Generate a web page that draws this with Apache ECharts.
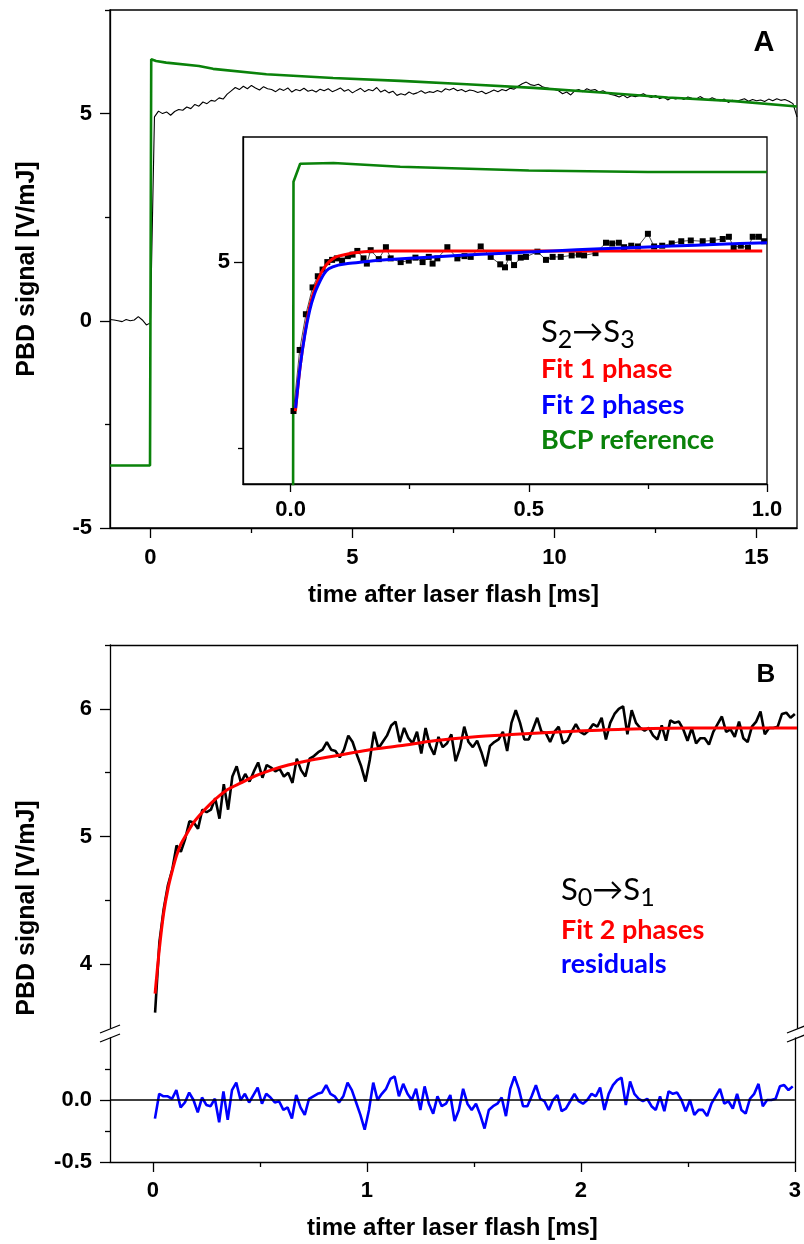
<!DOCTYPE html>
<html><head><meta charset="utf-8">
<script src="https://cdn.jsdelivr.net/npm/echarts@6/dist/echarts.min.js"></script>
<style>html,body{margin:0;padding:0;background:#fff}#c{width:804px;height:1244px}</style>
</head><body><div id="c"></div>
<script>
// ---------- Panel A (main) ----------
const A_T0 = -1.0, A_DT = 0.1;   // sampling of the PBD trace
const A_signal = [
  0.03, 0.02, 0.00, -0.02, 0.03, 0.00, 0.02, 0.10, 0.02, -0.10, -0.05,
  4.92, 5.06, 5.00, 5.04, 4.96, 5.05, 5.10, 5.08, 5.16, 5.12,
  5.22, 5.18, 5.28, 5.24, 5.32, 5.30, 5.38, 5.35, 5.47, 5.55,
  5.63, 5.58, 5.66, 5.60, 5.68, 5.62, 5.57, 5.65, 5.60, 5.58,
  5.53, 5.60, 5.56, 5.62, 5.52, 5.58, 5.55, 5.61, 5.54, 5.57,
  5.52, 5.59, 5.55, 5.60, 5.53, 5.57, 5.62, 5.54, 5.58, 5.50,
  5.56, 5.61, 5.53, 5.58, 5.55, 5.63, 5.52, 5.57, 5.50, 5.54,
  5.44, 5.48, 5.45, 5.52, 5.47, 5.50, 5.55, 5.49, 5.53, 5.51,
  5.56, 5.52, 5.60, 5.57, 5.61, 5.55, 5.58, 5.53, 5.57, 5.55,
  5.51, 5.54, 5.48, 5.52, 5.57, 5.53, 5.58, 5.55, 5.61, 5.59,
  5.66, 5.72, 5.76, 5.70, 5.68, 5.71, 5.65, 5.62, 5.60, 5.58,
  5.55, 5.48, 5.52, 5.45, 5.55, 5.58, 5.53, 5.60, 5.56, 5.58,
  5.52, 5.55, 5.50, 5.46, 5.44, 5.40, 5.45, 5.38, 5.43, 5.41,
  5.44, 5.48, 5.42, 5.39, 5.44, 5.36, 5.40, 5.33, 5.38, 5.35,
  5.39, 5.34, 5.40, 5.37, 5.35, 5.41, 5.36, 5.33, 5.38, 5.34,
  5.31, 5.35, 5.27, 5.32, 5.29, 5.33, 5.36, 5.30, 5.34, 5.31,
  5.33, 5.29, 5.35, 5.31, 5.36, 5.32, 5.34, 5.30, 5.24, 4.92
];
const A_bcp = [[-1,-3.49],[-0.01,-3.49],[0.02,6.31],[0.14,6.27],[0.39,6.23],[1.2,6.15],[1.55,6.08],
  [2.87,5.95],[4.52,5.86],[6.18,5.79],[7.83,5.71],[9.48,5.62],[11.15,5.51],[12.8,5.39],[14.45,5.30],[16.0,5.17]];

// ---------- Inset (0 - 1 ms) ----------
const I_signal = [[0.006,3.0],[0.019,3.82],[0.032,4.3],[0.046,4.66],[0.057,4.81],[0.067,4.9],[0.077,5.0],
  [0.087,5.03],[0.097,5.05],[0.108,5.02],[0.12,5.08],[0.13,5.1],[0.14,5.15],[0.153,5.05],[0.16,4.98],
  [0.168,5.16],[0.185,5.04],[0.2,5.2],[0.21,5.05],[0.231,5.0],[0.248,5.02],[0.262,5.06],[0.277,5.0],
  [0.29,5.07],[0.298,4.98],[0.308,5.05],[0.329,5.2],[0.35,5.05],[0.365,5.08],[0.378,5.07],[0.399,5.21],
  [0.42,5.07],[0.44,4.97],[0.45,4.93],[0.458,5.06],[0.469,4.96],[0.483,5.06],[0.494,5.07],[0.518,5.14],
  [0.536,5.03],[0.55,5.07],[0.567,5.07],[0.59,5.09],[0.605,5.1],[0.616,5.09],[0.64,5.12],[0.662,5.26],
  [0.675,5.25],[0.689,5.26],[0.70,5.2],[0.715,5.22],[0.729,5.21],[0.75,5.38],[0.763,5.21],[0.78,5.22],
  [0.80,5.25],[0.82,5.28],[0.84,5.29],[0.865,5.28],[0.886,5.29],[0.907,5.31],[0.92,5.34],[0.93,5.2],
  [0.945,5.22],[0.96,5.19],[0.97,5.34],[0.983,5.34],[0.994,5.28]];
const I_fit1 = [[0.01,3.0],[0.02,3.6],[0.03,4.05],[0.04,4.4],[0.05,4.63],[0.06,4.8],[0.07,4.92],[0.08,5.0],
  [0.09,5.05],[0.1,5.08],[0.12,5.11],[0.14,5.13],[0.17,5.145],[0.2,5.15],[0.99,5.15]];
const I_fit2 = [[0.0105,3.04],[0.02,3.6],[0.03,4.03],[0.04,4.35],[0.05,4.57],[0.06,4.72],[0.07,4.84],[0.08,4.91],
  [0.1,4.96],[0.12,4.98],[0.15,5.0],[0.2,5.03],[0.3,5.07],[0.4,5.105],[0.5,5.135],[0.6,5.165],[0.7,5.19],
  [0.8,5.215],[0.9,5.24],[1.0,5.26]];
const I_bcp = [[-0.1,-3.49],[0.004,-3.49],[0.006,6.08],[0.02,6.32],[0.09,6.33],[0.23,6.28],[0.5,6.23],[0.75,6.21],[1.0,6.21]];

// ---------- Panel B ----------
const B_T0 = 0.01, B_DT = 0.02;
const B_signal = [
  3.62,4.17,4.43,4.62,4.74,4.93,4.88,4.98,5.12,5.11,
  5.06,5.21,5.19,5.21,5.30,5.14,5.41,5.21,5.47,5.55,
  5.42,5.49,5.43,5.51,5.58,5.46,5.56,5.54,5.51,5.53,
  5.47,5.50,5.42,5.61,5.52,5.47,5.61,5.63,5.66,5.68,
  5.74,5.68,5.67,5.62,5.68,5.79,5.74,5.64,5.55,5.43,
  5.60,5.82,5.69,5.74,5.79,5.87,5.90,5.74,5.85,5.77,
  5.73,5.82,5.65,5.85,5.71,5.64,5.78,5.70,5.73,5.80,
  5.59,5.69,5.86,5.74,5.70,5.75,5.66,5.55,5.71,5.74,
  5.76,5.82,5.67,5.89,5.99,5.89,5.76,5.76,5.84,5.93,
  5.82,5.81,5.74,5.82,5.86,5.73,5.75,5.82,5.88,5.82,
  5.80,5.83,5.88,5.86,5.93,5.76,5.89,5.96,6.00,6.02,
  5.80,5.99,5.89,5.85,5.83,5.85,5.79,5.76,5.87,5.75,
  5.91,5.89,5.90,5.84,5.75,5.85,5.73,5.77,5.77,5.72,
  5.82,5.88,5.94,5.82,5.84,5.78,5.90,5.77,5.74,5.86,
  5.90,5.98,5.80,5.85,5.85,5.86,5.96,5.97,5.93,5.96
];
const B_resid = [
  -0.15,0.05,0.03,0.03,0.01,0.08,-0.06,-0.02,0.06,0.00,
  -0.10,0.02,-0.04,-0.05,0.01,-0.18,0.07,-0.16,0.08,0.14,
  0.00,0.05,-0.02,0.04,0.10,-0.03,0.05,0.02,-0.02,-0.01,
  -0.08,-0.06,-0.15,0.04,-0.06,-0.12,0.01,0.03,0.05,0.06,
  0.12,0.05,0.03,-0.02,0.03,0.14,0.08,-0.02,-0.12,-0.24,
  -0.08,0.14,0.00,0.05,0.09,0.17,0.19,0.03,0.13,0.05,
  0.00,0.09,-0.08,0.11,-0.03,-0.11,0.03,-0.05,-0.03,0.04,
  -0.17,-0.08,0.09,-0.03,-0.08,-0.03,-0.12,-0.23,-0.08,-0.05,
  -0.03,0.02,-0.13,0.09,0.19,0.09,-0.05,-0.05,0.03,0.12,
  0.01,-0.01,-0.08,0.00,0.04,-0.09,-0.07,-0.01,0.05,-0.01,
  -0.03,0.00,0.05,0.03,0.10,-0.08,0.05,0.12,0.16,0.18,
  -0.04,0.15,0.05,0.01,-0.01,0.01,-0.05,-0.08,0.03,-0.09,
  0.07,0.05,0.06,0.00,-0.09,0.00,-0.12,-0.08,-0.08,-0.13,
  -0.03,0.03,0.09,-0.03,-0.01,-0.07,0.05,-0.08,-0.11,0.01,
  0.05,0.13,-0.05,0.00,0.00,0.01,0.11,0.12,0.08,0.11
];
const B_fit = [[0.01,3.77],[0.03,4.12],[0.05,4.40],[0.07,4.59],[0.09,4.73],[0.11,4.85],[0.13,4.94],[0.15,5.00],
  [0.19,5.11],[0.23,5.19],[0.27,5.26],[0.31,5.32],[0.35,5.37],[0.41,5.42],[0.47,5.47],[0.55,5.52],[0.63,5.56],
  [0.71,5.59],[0.81,5.62],[0.91,5.65],[1.01,5.68],[1.15,5.71],[1.31,5.75],[1.49,5.78],[1.69,5.80],[1.91,5.82],
  [2.19,5.84],[2.5,5.85],[3.0,5.85]];

// ---------- ticks ----------
const A_xMajor=[0,5,10,15], A_xMinor=[2.5,7.5,12.5];
const A_yMajor=[-5,0,5],    A_yMinor=[-2.5,2.5,7.5];
const I_xMajor=[0,0.5,1.0], I_xMinor=[0.25,0.75];
const I_yMajor=[5],         I_yMinor=[2.5];
const B_xMajor=[0,1,2,3],   B_xMinor=[0.5,1.5,2.5];
const B_yMajor=[4,5,6],     B_yMinor=[4.5,5.5,6.5];
const R_yMajor=[-0.5,0],    R_yMinor=[-0.25,0.25];

// ---------- helpers ----------
const toPairs = (t0, dt, vals) => vals.map((v, i) => [+(t0 + i * dt).toFixed(4), v]);
const AXC = '#000';
const LINE = {color: AXC, width: 1.3};
const FONT = '"Liberation Sans", Arial, sans-serif';
const LBL = {fontFamily: FONT, fontWeight: 'bold', fontSize: 22, color: '#000'};
const NAME = Object.assign({}, LBL, {fontSize: 24});

function axisPair(gridIndex, min, max, major, minor, o) {
  o = o || {};
  const base = {type: 'value', gridIndex, min, max, position: o.position, splitLine: {show: false}};
  const maj = Object.assign({}, base, {
    axisLine: {show: true, onZero: false, lineStyle: LINE},
    axisTick: {show: true, customValues: major, length: o.majorLen || 10, lineStyle: LINE},
    axisLabel: Object.assign({show: true, customValues: major, margin: o.margin || 16,
      formatter: o.fmt || (v => String(v))}, LBL),
    name: o.name || '', nameLocation: 'middle', nameGap: o.nameGap || 50,
    nameTextStyle: Object.assign({}, NAME, o.nameSize ? {fontSize: o.nameSize} : {})
  });
  const mnr = Object.assign({}, base, {
    axisLine: {show: false, onZero: false},
    axisTick: {show: true, customValues: minor, length: o.minorLen || 5, lineStyle: LINE},
    axisLabel: {show: false}
  });
  return [maj, mnr];
}
function plainAxis(gridIndex, min, max, position) {
  return {type: 'value', gridIndex, min, max, position, splitLine: {show: false},
    axisLine: {show: true, onZero: false, lineStyle: LINE}, axisTick: {show: false}, axisLabel: {show: false}};
}
const fix1 = v => v.toFixed(1);

const GREEN = '#0a820a', RED = '#ff0000', BLUE = '#0000ff';
const LEG = 'Lato, "Open Sans", sans-serif';
const SUBRICH = {s: {fontFamily: LEG, fontSize: 31, lineHeight: 40, verticalAlign: 'middle', color: '#000'},
                 b: {fontFamily: LEG, fontSize: 25, verticalAlign: 'bottom', color: '#000'}};

const option = {
  animation: false,
  backgroundColor: '#fff',
  grid: [
    {left: 110, top: 10, width: 687, height: 518, show: true, borderColor: '#000', borderWidth: 1.3, backgroundColor: 'transparent'},
    {left: 243, top: 137, width: 524, height: 347, show: true, borderColor: '#000', borderWidth: 1.3, backgroundColor: '#fff'},
    {left: 110, top: 645, width: 687, height: 383},
    {left: 110, top: 1038, width: 687, height: 124}
  ],
  xAxis: [
    ...axisPair(0, -1, 16, A_xMajor, A_xMinor, {position: 'bottom', margin: 19, name: 'time after laser flash [ms]', nameGap: 55}),
    ...axisPair(1, -0.1, 1.0, I_xMajor, I_xMinor, {position: 'bottom', margin: 15, majorLen: 8, fmt: fix1}),
    plainAxis(2, -0.2, 3, 'top'),
    ...axisPair(3, -0.2, 3, B_xMajor, B_xMinor, {position: 'bottom', margin: 18, name: 'time after laser flash [ms]', nameGap: 54})
  ],
  yAxis: [
    ...axisPair(0, -5, 7.5, A_yMajor, A_yMinor, {position: 'left', margin: 18, name: 'PBD signal [V/mJ]', nameGap: 70, nameSize: 25}),
    ...axisPair(1, 2.02, 6.68, I_yMajor, I_yMinor, {position: 'left', margin: 13, majorLen: 9}),
    ...axisPair(2, 3.5, 6.5, B_yMajor, B_yMinor, {position: 'left', margin: 18}),
    plainAxis(2, 3.5, 6.5, 'right'),
    ...axisPair(3, -0.5, 0.5, R_yMajor, R_yMinor, {position: 'left', margin: 18, fmt: fix1}),
    plainAxis(3, -0.5, 0.5, 'right')
  ],
  series: [
    {type: 'line', name: 'PBD signal', xAxisIndex: 0, yAxisIndex: 0, data: toPairs(A_T0, A_DT, A_signal),
      symbol: 'none', lineStyle: {color: '#000', width: 1.1}, clip: true, z: 2},
    {type: 'line', name: 'BCP reference', xAxisIndex: 0, yAxisIndex: 0, data: A_bcp,
      symbol: 'none', lineStyle: {color: GREEN, width: 2.6}, clip: true, z: 3},

    {type: 'line', name: 'BCP reference (inset)', xAxisIndex: 2, yAxisIndex: 2, data: I_bcp,
      symbol: 'none', lineStyle: {color: GREEN, width: 2.6}, clip: true, z: 4},
    {type: 'line', name: 'S2→S3 data', xAxisIndex: 2, yAxisIndex: 2, data: I_signal,
      symbol: 'rect', symbolSize: 6, showSymbol: true, itemStyle: {color: '#000'},
      lineStyle: {color: '#000', width: 0.7}, clip: true, z: 4},
    {type: 'line', name: 'Fit 1 phase', xAxisIndex: 2, yAxisIndex: 2, data: I_fit1, smooth: 0.3,
      symbol: 'none', lineStyle: {color: RED, width: 3}, clip: true, z: 5},
    {type: 'line', name: 'Fit 2 phases', xAxisIndex: 2, yAxisIndex: 2, data: I_fit2, smooth: 0.3,
      symbol: 'none', lineStyle: {color: BLUE, width: 3}, clip: true, z: 6},

    {type: 'line', name: 'S0→S1 data', xAxisIndex: 4, yAxisIndex: 4, data: toPairs(B_T0, B_DT, B_signal),
      symbol: 'none', lineStyle: {color: '#000', width: 2.6}, clip: true, z: 2},
    {type: 'line', name: 'Fit 2 phases (S0→S1)', xAxisIndex: 4, yAxisIndex: 4, data: B_fit, smooth: 0.3,
      symbol: 'none', lineStyle: {color: RED, width: 3}, clip: true, z: 3},

    {type: 'line', name: 'zero', xAxisIndex: 5, yAxisIndex: 7, data: [], symbol: 'none', z: 1,
      markLine: {silent: true, symbol: 'none', label: {show: false}, animation: false,
        lineStyle: {color: '#000', width: 1.5, type: 'solid'}, data: [{yAxis: 0}]}},
    {type: 'line', name: 'residuals', xAxisIndex: 5, yAxisIndex: 7, data: toPairs(B_T0, B_DT, B_resid),
      symbol: 'none', lineStyle: {color: BLUE, width: 2.6}, clip: true, z: 3}
  ],
  graphic: [
    {type: 'text', x: 764, y: 43, style: {text: 'A', align: 'center', verticalAlign: 'middle',
      font: 'bold 29px ' + FONT, fill: '#000'}},
    {type: 'text', x: 766, y: 675, style: {text: 'B', align: 'center', verticalAlign: 'middle',
      font: 'bold 26px ' + FONT, fill: '#000'}},
    {type: 'text', x: 27, y: 908, rotation: Math.PI / 2, style: {text: 'PBD signal [V/mJ]', align: 'center',
      verticalAlign: 'middle', font: 'bold 25px ' + FONT, fill: '#000'}},

    {type: 'text', x: 541, y: 312, style: {text: '{s|S}{b|2}{s|→S}{b|3}', align: 'left', verticalAlign: 'top', rich: SUBRICH}},
    {type: 'text', x: 541, y: 369, style: {text: 'Fit 1 phase', align: 'left', verticalAlign: 'middle',
      font: 'bold 27px ' + LEG, fill: RED}},
    {type: 'text', x: 541, y: 405, style: {text: 'Fit 2 phases', align: 'left', verticalAlign: 'middle',
      font: 'bold 27px ' + LEG, fill: BLUE}},
    {type: 'text', x: 541, y: 440, style: {text: 'BCP reference', align: 'left', verticalAlign: 'middle',
      font: 'bold 27px ' + LEG, fill: GREEN}},

    {type: 'text', x: 561, y: 870, style: {text: '{s|S}{b|0}{s|→S}{b|1}', align: 'left', verticalAlign: 'top', rich: SUBRICH}},
    {type: 'text', x: 561, y: 930, style: {text: 'Fit 2 phases', align: 'left', verticalAlign: 'middle',
      font: 'bold 27px ' + LEG, fill: RED}},
    {type: 'text', x: 561, y: 964, style: {text: 'residuals', align: 'left', verticalAlign: 'middle',
      font: 'bold 27px ' + LEG, fill: BLUE}},

    // axis-break marks
    {type: 'line', shape: {x1: 100, y1: 1033, x2: 120, y2: 1025}, style: {stroke: '#000', lineWidth: 1.3}},
    {type: 'line', shape: {x1: 100, y1: 1042, x2: 120, y2: 1034}, style: {stroke: '#000', lineWidth: 1.3}},
    {type: 'line', shape: {x1: 787, y1: 1033, x2: 807, y2: 1025}, style: {stroke: '#000', lineWidth: 1.3}},
    {type: 'line', shape: {x1: 787, y1: 1042, x2: 807, y2: 1034}, style: {stroke: '#000', lineWidth: 1.3}}
  ]
};
const chart = echarts.init(document.getElementById('c'), null, {renderer: 'canvas'});
chart.setOption(option);
</script></body></html>
